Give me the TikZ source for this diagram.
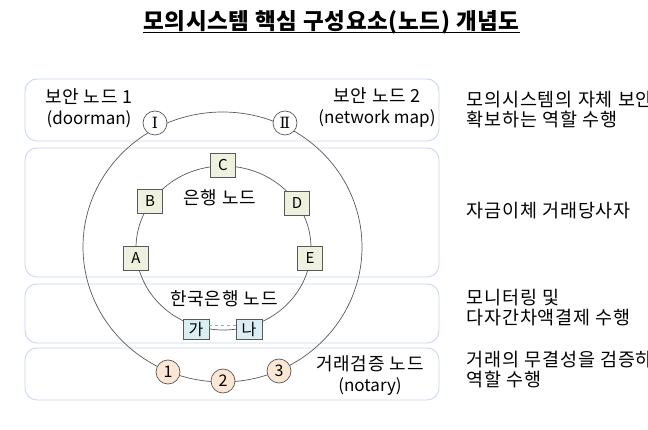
\documentclass[tikz,border=0pt]{standalone}
\usepackage{fontspec}
\usepackage{tikz}
\usetikzlibrary{positioning}
\newfontfamily\kr{Noto Sans CJK KR}
\newfontfamily\krw{Noto Sans CJK KR}[LetterSpace=5.0]
\newfontfamily\krt{Noto Sans CJK KR}[LetterSpace=3.0]
\newfontfamily\numfont{DejaVu Serif}
\definecolor{boxline}{HTML}{C9D8EC}
\definecolor{ringline}{HTML}{595959}
\definecolor{bankfill}{HTML}{EEF1DE}
\definecolor{bokfill}{HTML}{DBEEF4}
\definecolor{notfill}{HTML}{FCE6D4}
\definecolor{dashline}{HTML}{7FAFC4}

\begin{document}
\begin{tikzpicture}[x=1pt, y=-1pt, font=\kr\fontsize{17}{20}\selectfont,
        layer/.style={draw=boxline, line width=0.9pt, rounded corners=12pt},
        ring/.style={draw=ringline, line width=0.7pt},
        guard/.style={circle, draw=ringline, fill=white, line width=0.7pt, minimum size=24pt, inner sep=0pt, font=\numfont\fontsize{15.5}{15.5}\selectfont},
        bank/.style={draw=ringline, fill=bankfill, line width=0.7pt, minimum width=25pt, minimum height=24pt, inner sep=0pt, font=\kr\fontsize{15}{15}\selectfont},
        bok/.style={draw=ringline, fill=bokfill, line width=0.7pt, minimum width=26pt, minimum height=20pt, inner sep=0pt, font=\kr\fontsize{16}{16}\selectfont},
        notary/.style={circle, draw=ringline, fill=notfill, line width=0.7pt, minimum size=24pt, inner sep=0pt, font=\kr\fontsize{16}{16}\selectfont},
        tag/.style={align=center, inner sep=0pt, font=\kr\fontsize{17}{21}\selectfont},
        role/.style={anchor=west, align=left, inner sep=0pt, font=\krw\fontsize{18.5}{20}\selectfont}]
    \useasboundingbox (0,0) rectangle (648,430);

    \node[inner sep=0pt, font=\krt\bfseries\fontsize{22.5}{23}\selectfont] (title) at (331.5,22) {모의시스템 핵심 구성요소(노드) 개념도};
    \draw[line width=0.8pt] ([yshift=-3pt]title.base west) -- ([yshift=-3pt]title.base east);

    \draw[layer] (25,79) rectangle (439,141);
    \draw[layer] (25,148) rectangle (439,277);
    \draw[layer] (25,284) rectangle (439,343);
    \draw[layer] (25,348) rectangle (439,400);

    \draw[ring] (222.5,247) ellipse [x radius=139.5pt, y radius=135pt];
    \draw[ring] (223.5,248) ellipse [x radius=87.5pt, y radius=82pt];

    \node[guard] (g1) at (155,123) {Ⅰ};
    \node[guard] (g2) at (285,123) {Ⅱ};

    \node[bank] (c) at (223,165) {C};
    \node[bank] (b) at (150,201) {B};
    \node[bank] (d) at (297,203) {D};
    \node[bank] (a) at (136,258) {A};
    \node[bank] (e) at (310,258) {E};

    \node[bok] (ga) at (196,329) {가};
    \node[bok] (na) at (249,329) {나};
    \draw[dashline, dashed, line width=0.7pt] ([yshift=4pt]ga.east) -- ([yshift=4pt]na.west);

    \node[notary] (n1) at (168,372) {1};
    \node[notary] (n2) at (223,381) {2};
    \node[notary] (n3) at (279,371) {3};

    \node[tag] (sec1) at (89,108) {{\krw\fontsize{18}{21}\selectfont 보안 노드 1}\\(doorman)};
    \node[tag] (sec2) at (377,108) {{\krw\fontsize{18}{21}\selectfont 보안 노드 2}\\(network map)};
    \node[tag, font=\krw\fontsize{18}{21}\selectfont] (banks) at (220,198) {은행 노드};
    \node[tag, font=\krw\fontsize{18}{21}\selectfont] (bokn) at (224,299) {한국은행 노드};
    \node[tag] (nota) at (370,376) {{\krw\fontsize{18}{21}\selectfont 거래검증 노드}\\(notary)};

    \node[role] (r1) at (466,110) {모의시스템의 자체 보안\\확보하는 역할 수행};
    \node[role] (r2) at (466,211) {자금이체 거래당사자};
    \node[role] (r3) at (466,308) {모니터링 및\\다자간차액결제 수행};
    \node[role] (r4) at (466,370) {거래의 무결성을 검증하\\역할 수행};
\end{tikzpicture}
\end{document}
